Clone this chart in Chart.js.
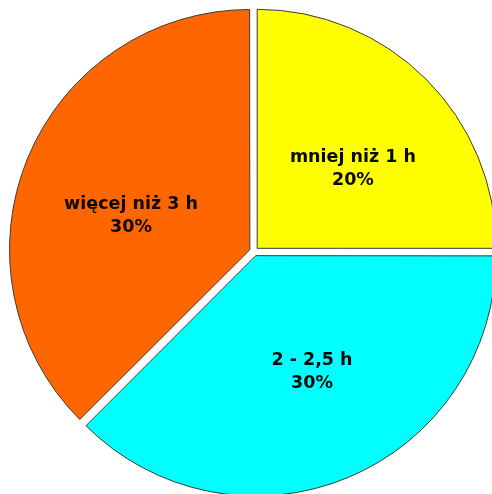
<!DOCTYPE html>
<html lang="pl">
<head>
    <meta charset="UTF-8">
    <title>Czas</title>
    <script src="https://cdn.jsdelivr.net/npm/chart.js"></script>
    <style>
        body {
            margin: 0;
            background: #ffffff;
        }

        #wrap {
            width: 492px;
            height: 494px;
            position: relative;
        }
    </style>
</head>
<body>
    <div id="wrap">
        <canvas id="pie-chart"></canvas>
    </div>
    <script>
        // dane
        const categories = ['mniej niż 1 h', '2 - 2,5 h', 'więcej niż 3 h'];
        const values = [20, 30, 30];
        const percentLabels = ['20%', '30%', '30%'];
        const sliceColors = ['#FFFF00', '#00FFFF', '#FF6600'];

        // Chart.js przesuwa wycinek o offset / 4 pikseli
        const SLICE_OFFSET = 18;
        // drobne poprawki położenia etykiet (kąt w stopniach, odległość jako część promienia)
        const labelAngleShift = [5, -3.4, -6.2];
        const labelDistance = [0.523, 0.539, 0.518];

        const sliceLabels = {
            id: 'sliceLabels',
            afterDatasetsDraw(chart) {
                const ctx = chart.ctx;
                const meta = chart.getDatasetMeta(0);
                ctx.save();
                ctx.font = 'bold 17.5px "DejaVu Sans", Verdana, sans-serif';
                ctx.fillStyle = '#0a0a0a';
                ctx.textAlign = 'center';
                ctx.textBaseline = 'middle';
                meta.data.forEach((arc, i) => {
                    const p = arc.getProps(['x', 'y', 'startAngle', 'endAngle', 'outerRadius'], true);
                    const mid = (p.startAngle + p.endAngle) / 2;
                    const shift = SLICE_OFFSET / 4;
                    const vx = p.x + Math.cos(mid) * shift;
                    const vy = p.y + Math.sin(mid) * shift;
                    const a = mid + labelAngleShift[i] * Math.PI / 180;
                    const d = p.outerRadius * labelDistance[i];
                    const cx = vx + Math.cos(a) * d;
                    const cy = vy + Math.sin(a) * d;
                    ctx.fillText(categories[i], cx, cy - 11);
                    ctx.fillText(percentLabels[i], cx, cy + 12);
                });
                ctx.restore();
            }
        };

        const ctx = document.getElementById('pie-chart').getContext('2d');
        const chart = new Chart(ctx, {
            type: 'pie',
            data: {
                labels: categories,
                datasets: [{
                    data: values,
                    backgroundColor: sliceColors,
                    borderColor: '#3a3a3a',
                    borderWidth: 1,
                    offset: SLICE_OFFSET,
                    clip: false
                }]
            },
            options: {
                responsive: true,
                maintainAspectRatio: false,
                animation: false,
                radius: 239,
                layout: {
                    padding: { left: 16, top: 9, right: 0, bottom: 0 }
                },
                plugins: {
                    legend: { display: false },
                    tooltip: { enabled: false }
                }
            },
            plugins: [sliceLabels]
        });
    </script>
</body>
</html>
